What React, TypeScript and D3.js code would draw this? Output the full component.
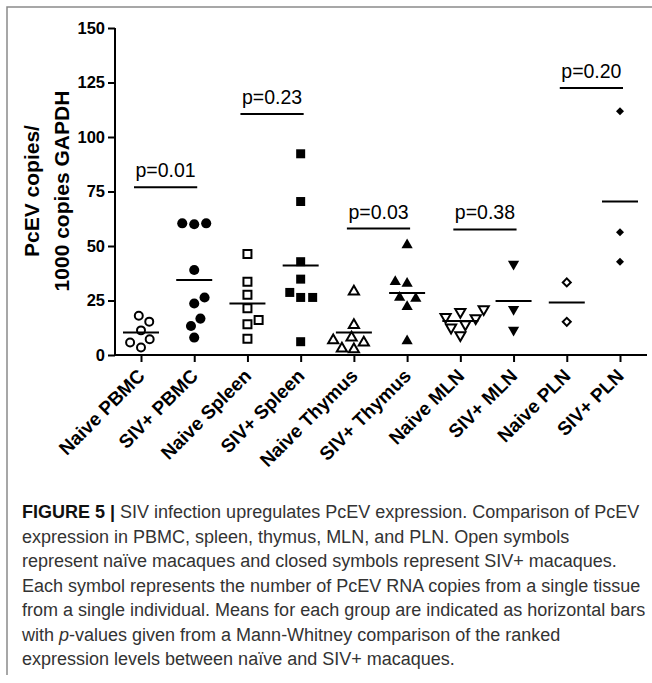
import { useEffect, useRef } from "react";
import * as d3 from "d3";

// groups along the x axis
const groups = [
  "Naive PBMC",
  "SIV+ PBMC",
  "Naive Spleen",
  "SIV+ Spleen",
  "Naive Thymus",
  "SIV+ Thymus",
  "Naive MLN",
  "SIV+ MLN",
  "Naive PLN",
  "SIV+ PLN",
];

// PcEV copies / 1000 copies GAPDH
const naivePBMC = [18, 15.3, 11.3, 7.2, 3.4, 5.7];
const sivPBMC = [60.4, 60, 60.4, 39, 23.6, 26.4, 16.7, 13.3, 8];
const naiveSpleen = [46.3, 33.6, 27.6, 21.5, 16.1, 14.1, 7.5];
const sivSpleen = [92.3, 70.4, 42.8, 34.8, 26.4, 26.4, 28.7, 6.1];
const naiveThymus = [29.1, 13.7, 8, 5.7, 6.7, 2.6, 2.9];
const sivThymus = [50.5, 32.8, 33.6, 25.9, 26.4, 22.1, 6.4];
const naiveMLN = [21, 17.5, 16.9, 19.8, 14.1, 12.6, 9.1];
const sivMLN = [41.7, 21, 11.5];
const naivePLN = [33.3, 15.2];
const sivPLN = [111.8, 56.3, 42.8];

// group means (horizontal bars)
const means = [10.3, 34.4, 23.6, 41, 10.3, 28.4, 15.6, 24.8, 24.1, 70.4];

// p-value brackets: which pair, label, height
const pPairs = [
  ["Naive PBMC", "SIV+ PBMC"],
  ["Naive Spleen", "SIV+ Spleen"],
  ["Naive Thymus", "SIV+ Thymus"],
  ["Naive MLN", "SIV+ MLN"],
  ["Naive PLN", "SIV+ PLN"],
];
const pLabels = ["p=0.01", "p=0.23", "p=0.03", "p=0.38", "p=0.20"];
const pHeights = [77, 110.6, 58, 57.6, 122.5];

const yTicks = [0, 25, 50, 75, 100, 125, 150];

const captionLines = [
  "SIV infection upregulates PcEV expression. Comparison of PcEV",
  "expression in PBMC, spleen, thymus, MLN, and PLN. Open symbols",
  "represent naïve macaques and closed symbols represent SIV+ macaques.",
  "Each symbol represents the number of PcEV RNA copies from a single tissue",
  "from a single individual. Means for each group are indicated as horizontal bars",
  "with |p|-values given from a Mann-Whitney comparison of the ranked",
  "expression levels between naïve and SIV+ macaques.",
];

// simple beeswarm: closest-to-centre non-overlapping offset
const swarm = (vals: number[], y: (v: number) => number, d: number) => {
  const order = vals.map((_, i) => i).sort((a, b) => vals[a] - vals[b]);
  const placed: { x: number; y: number }[] = [];
  const out: number[] = new Array(vals.length);
  order.forEach((i, k) => {
    const py = y(vals[i]);
    const cands = [0];
    placed.forEach((p) => {
      const dy = Math.abs(p.y - py);
      if (dy < d) {
        const dx = Math.sqrt(d * d - dy * dy);
        cands.push(p.x + dx, p.x - dx);
      }
    });
    const ok = cands.filter((c) =>
      placed.every((p) => (p.x - c) ** 2 + (p.y - py) ** 2 >= d * d - 0.01)
    );
    ok.sort((a, b) => Math.abs(a) - Math.abs(b) || (k % 2 ? a - b : b - a));
    out[i] = ok[0];
    placed.push({ x: ok[0], y: py });
  });
  return out;
};

const App = () => {
  const svgRef = useRef(null);

  useEffect(() => {
    d3.select(svgRef.current).selectAll("*").remove();

    const width = 652;
    const height = 683;
    const font = "'Liberation Sans', Arial, Helvetica, sans-serif";

    const svg = d3
      .select(svgRef.current)
      .attr("width", width)
      .attr("height", height)
      .style("font-family", font);

    svg.append("rect").attr("width", width).attr("height", height).attr("fill", "#fff");

    // figure frame (top and left rules)
    svg
      .append("path")
      .attr("d", `M7,675V7H${width}`)
      .attr("fill", "none")
      .attr("stroke", "#8a8a8a")
      .attr("stroke-width", 1.5);

    const x = d3.scalePoint().domain(groups).range([141, 620]);
    const y = d3.scaleLinear().domain([0, 150]).range([355, 28]);

    // y axis
    const yAxis = svg.append("g").attr("transform", "translate(115,0)").call(
      d3.axisLeft(y).tickValues(yTicks).tickSize(7).tickPadding(3)
    );
    yAxis.select(".domain").attr("stroke", "#000").attr("stroke-width", 2).attr("d", `M0,${y(0)}V${y(150)}`);
    yAxis.selectAll(".tick line").attr("stroke", "#000").attr("stroke-width", 2);
    yAxis
      .selectAll(".tick text")
      .attr("font-family", font)
      .attr("font-size", 16.5)
      .attr("font-weight", "bold")
      .attr("fill", "#000");

    // x axis
    const xAxis = svg.append("g").attr("transform", `translate(0,${y(0)})`).call(
      d3.axisBottom(x).tickSize(7).tickFormat(() => "")
    );
    xAxis.select(".domain").attr("stroke", "#000").attr("stroke-width", 2).attr("d", "M114,0H647");
    xAxis.selectAll(".tick line").attr("stroke", "#000").attr("stroke-width", 2);

    // rotated category labels
    svg
      .append("g")
      .selectAll("text")
      .data(groups)
      .join("text")
      .attr("transform", (d) => `translate(${(x(d) as number) + 5},377) rotate(-45)`)
      .attr("text-anchor", "end")
      .attr("font-size", 19)
      .attr("font-weight", "bold")
      .text((d) => d);

    // y axis title
    const yTitle = svg
      .append("text")
      .attr("transform", "translate(38.5,191) rotate(-90)")
      .attr("text-anchor", "middle")
      .attr("font-size", 21)
      .attr("font-weight", "bold");
    yTitle.append("tspan").attr("x", 0).attr("dy", 0).text("PcEV copies/");
    yTitle.append("tspan").attr("x", 0).attr("dy", 30).text("1000 copies GAPDH");

    // points
    const series = [
      naivePBMC, sivPBMC, naiveSpleen, sivSpleen, naiveThymus,
      sivThymus, naiveMLN, sivMLN, naivePLN, sivPLN,
    ];
    const shapes = [
      { type: d3.symbolCircle, rot: 0, open: 50, solid: 80 },
      { type: d3.symbolSquare, rot: 0, open: 64, solid: 81 },
      { type: d3.symbolTriangle, rot: 0, open: 45, solid: 55 },
      { type: d3.symbolTriangle, rot: 180, open: 45, solid: 55 },
      { type: d3.symbolSquare, rot: 45, open: 32, solid: 32 },
    ];

    series.forEach((vals, gi) => {
      const shape = shapes[Math.floor(gi / 2)];
      const open = gi % 2 === 0;
      const offs = swarm(vals, y, 12);
      const path = d3.symbol().type(shape.type).size(open ? shape.open : shape.solid)();
      svg
        .append("g")
        .selectAll("path")
        .data(vals)
        .join("path")
        .attr("d", path)
        .attr(
          "transform",
          (d, i) => `translate(${(x(groups[gi]) as number) + offs[i]},${y(d)}) rotate(${shape.rot})`
        )
        .attr("fill", open ? "#fff" : "#000")
        .attr("stroke", "#000")
        .attr("stroke-width", open ? 2 : 0);
    });

    // mean bars
    svg
      .append("g")
      .selectAll("line")
      .data(means)
      .join("line")
      .attr("x1", (d, i) => (x(groups[i]) as number) - 18)
      .attr("x2", (d, i) => (x(groups[i]) as number) + 18)
      .attr("y1", (d) => y(d))
      .attr("y2", (d) => y(d))
      .attr("stroke", "#000")
      .attr("stroke-width", 2);

    // p-value lines and labels
    const pg = svg.append("g");
    pPairs.forEach((pair, i) => {
      const x1 = (x(pair[0]) as number) - 7;
      const x2 = (x(pair[1]) as number) + 3;
      pg.append("line")
        .attr("x1", x1)
        .attr("x2", x2)
        .attr("y1", y(pHeights[i]))
        .attr("y2", y(pHeights[i]))
        .attr("stroke", "#000")
        .attr("stroke-width", 2);
      pg.append("text")
        .attr("x", (x1 + x2) / 2)
        .attr("y", y(pHeights[i]) - 10)
        .attr("text-anchor", "middle")
        .attr("font-size", 19.5)
        .text(pLabels[i]);
    });

    // caption
    const cap = svg
      .append("text")
      .attr("font-size", 18)
      .attr("fill", "#333");
    captionLines.forEach((line, i) => {
      const t = cap.append("tspan").attr("x", 22).attr("y", 518 + i * 24.5);
      if (i === 0) {
        t.append("tspan").attr("font-weight", "bold").attr("fill", "#111").text("FIGURE 5 | ");
      }
      line.split("|").forEach((part, j) => {
        const s = t.append("tspan").text(part);
        if (j % 2 === 1) s.attr("font-style", "italic");
      });
    });
  }, []);

  return (
    <svg
      ref={svgRef}
      style={{ position: "absolute", left: 0, top: 0, display: "block" }}
    ></svg>
  );
};

export default App;
